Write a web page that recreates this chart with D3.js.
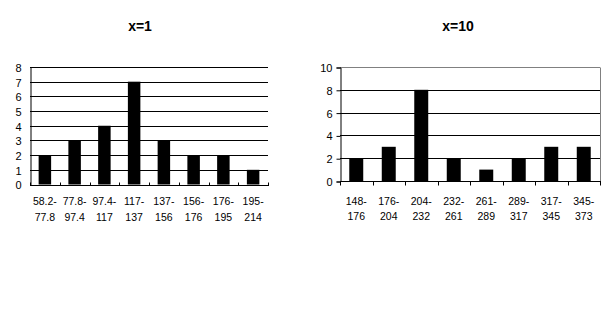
<!DOCTYPE html>
<html>
<head>
<meta charset="utf-8">
<script src="https://cdn.jsdelivr.net/npm/d3@7"></script>
<style>
  html, body { margin: 0; padding: 0; background: #fff; }
  svg { display: block; }
  text { font-family: Arial, "Liberation Sans", sans-serif; fill: #000; }
</style>
</head>
<body>
<svg id="chart" width="612" height="315"></svg>
<script>
// ---- data ----
const titles = ["x=1", "x=10"];
const categories1 = ["58.2-77.8", "77.8-97.4", "97.4-117", "117-137", "137-156", "156-176", "176-195", "195-214"];
const values1 = [2, 3, 4, 7, 3, 2, 2, 1];
const yTicks1 = [0, 1, 2, 3, 4, 5, 6, 7, 8];
const categories2 = ["148-176", "176-204", "204-232", "232-261", "261-289", "289-317", "317-345", "345-373"];
const values2 = [2, 3, 8, 2, 1, 2, 3, 3];
const yTicks2 = [0, 2, 4, 6, 8, 10];

const svg = d3.select("#chart");

function drawChart(cfg) {
  const g = svg.append("g");
  const x = d3.scaleBand().domain(cfg.categories).range([cfg.left, cfg.right]).padding(0);
  const y = d3.scaleLinear().domain([0, cfg.ymax]).range([cfg.bottom, cfg.top]);

  // title
  g.append("text")
    .attr("x", cfg.titleX).attr("y", 31)
    .attr("text-anchor", "middle")
    .style("font-size", "14px").style("font-weight", "bold")
    .text(cfg.title);

  // gridlines
  g.selectAll("line.grid").data(cfg.yTicks.filter(t => t > 0))
    .enter().append("line")
    .attr("x1", cfg.left).attr("x2", cfg.right)
    .attr("y1", d => Math.round(y(d)) + 0.5).attr("y2", d => Math.round(y(d)) + 0.5)
    .attr("stroke", d => (cfg.grayTop && d === cfg.ymax) ? "#808080" : "#000")
    .attr("stroke-width", 1);

  if (cfg.grayTop) {
    g.append("line")
      .attr("x1", cfg.right + 0.5).attr("x2", cfg.right + 0.5)
      .attr("y1", Math.round(y(cfg.ymax)) + 0.5).attr("y2", Math.round(y(0)) + 0.5)
      .attr("stroke", "#808080");
  }

  // bars
  const bw = x.bandwidth() * cfg.barFrac;
  g.selectAll("rect.bar").data(cfg.values)
    .enter().append("rect")
    .attr("x", (d, i) => x(cfg.categories[i]) + (x.bandwidth() - bw) / 2)
    .attr("y", d => y(d))
    .attr("width", bw)
    .attr("height", d => y(0) - y(d))
    .attr("fill", "#000");

  // y axis line
  const yAxis = d3.axisLeft(y).tickValues(cfg.yTicks).tickSize(cfg.yTickSize).tickPadding(cfg.yPad);
  const ya = g.append("g").attr("transform", `translate(${cfg.left + 0.5},0.5)`).call(yAxis);
  ya.select(".domain").attr("stroke", "#000");
  ya.selectAll(".tick line").attr("stroke", "#000");
  ya.selectAll("text").style("font-size", "11px").attr("dy", "0.36em");

  // x axis line + ticks at boundaries
  const yb = Math.round(y(0)) + 0.5;
  g.append("line").attr("x1", cfg.left).attr("x2", cfg.right + 1)
    .attr("y1", yb).attr("y2", yb).attr("stroke", "#000");
  const bounds = cfg.categories.map(c => x(c)).concat([cfg.right]);
  g.selectAll("line.xt").data(bounds).enter().append("line")
    .attr("x1", d => Math.round(d) + 0.5).attr("x2", d => Math.round(d) + 0.5)
    .attr("y1", yb).attr("y2", yb + cfg.xTickDir)
    .attr("stroke", "#000");

  // x labels (two lines)
  const lbl = g.selectAll("text.xl").data(cfg.categories).enter().append("text")
    .attr("text-anchor", "middle")
    .style("font-size", "10.5px");
  lbl.each(function(d) {
    const parts = d.split("-");
    const t = d3.select(this);
    const cx = x(d) + x.bandwidth() / 2;
    t.append("tspan").attr("x", cx).attr("y", cfg.lab1).text(parts[0] + "-");
    t.append("tspan").attr("x", cx).attr("y", cfg.lab2).text(parts[1]);
  });
}

drawChart({
  title: titles[0], titleX: 140,
  categories: categories1, values: values1, yTicks: yTicks1, ymax: 8,
  left: 30, right: 268, top: 67, bottom: 184.5,
  barFrac: 0.42, grayTop: false, yTickSize: 0, yPad: 9,
  xTickDir: -3, lab1: 205, lab2: 221
});

drawChart({
  title: titles[1], titleX: 458,
  categories: categories2, values: values2, yTicks: yTicks2, ymax: 10,
  left: 340, right: 600, top: 67, bottom: 181,
  barFrac: 0.43, grayTop: true, yTickSize: 4, yPad: 4,
  xTickDir: 4, lab1: 205, lab2: 220
});
</script>
</body>
</html>
